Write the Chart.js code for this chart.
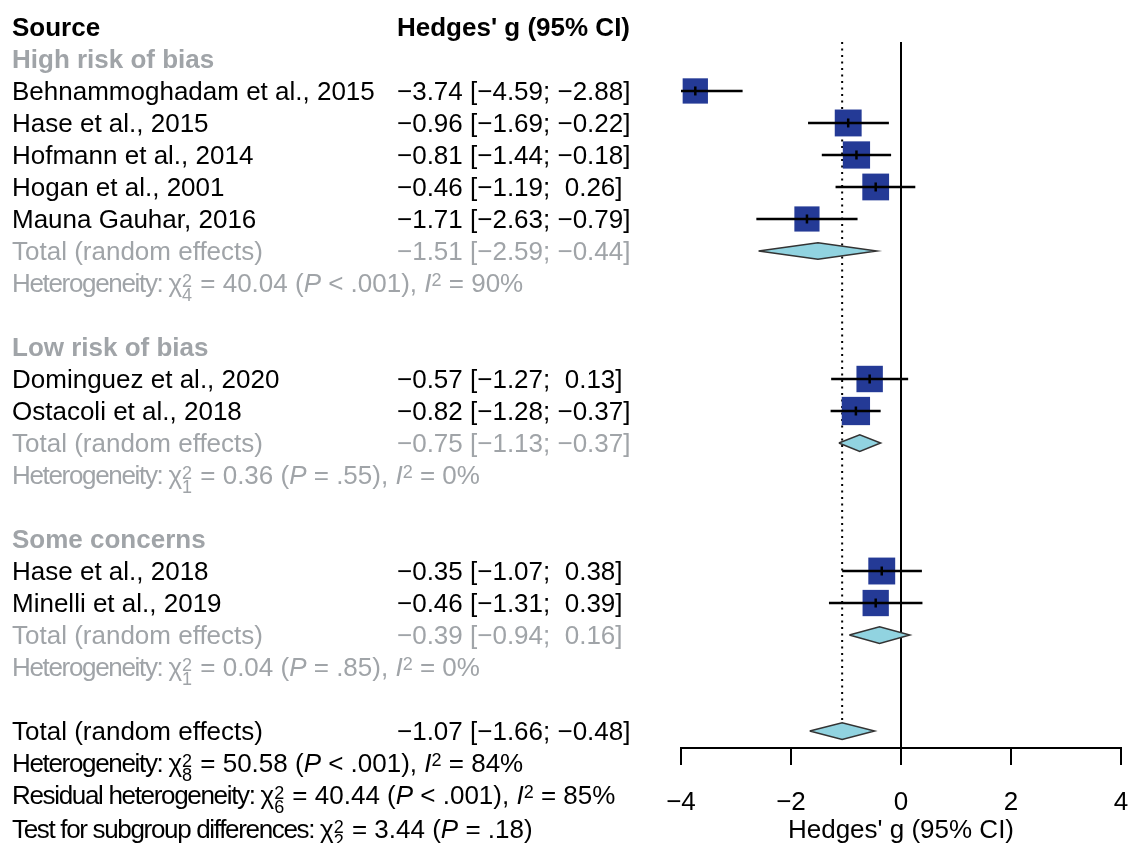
<!DOCTYPE html>
<html>
<head>
<meta charset="utf-8">
<title>Forest plot</title>
<script src="https://cdn.jsdelivr.net/npm/chart.js@4.4.1/dist/chart.umd.min.js"></script>
<style>
body{margin:0;background:#fff}
#wrap{position:relative;width:1129px;height:843px;overflow:hidden;font-family:'Liberation Sans',Arial,sans-serif;font-size:26px}
#forest{position:absolute;left:0;top:0}
.row{position:absolute;height:32px;line-height:32px;white-space:pre;color:#000}
.grey{color:#a0a4a8}
.bold{font-weight:bold}
.lab{letter-spacing:-1.33px}
.sup{position:relative;top:-6px;font-size:18px;line-height:0}
.ss{position:relative;display:inline-block;width:11px;height:0}
.ss span{position:absolute;left:0;font-size:18px;line-height:18px}
.ss .up{bottom:2px}
.ss .dn{top:-6px}
</style>
</head>
<body>
<div id="wrap"><canvas id="forest" width="1129" height="843"></canvas></div>
<script>
'use strict'
let groups=['High risk of bias','Low risk of bias','Some concerns']
let studies=['Behnammoghadam et al., 2015','Hase et al., 2015','Hofmann et al., 2014','Hogan et al., 2001','Mauna Gauhar, 2016','Dominguez et al., 2020','Ostacoli et al., 2018','Hase et al., 2018','Minelli et al., 2019']
let studyGroup=[0,0,0,0,0,1,1,2,2]
let hedgesG=[-3.74,-0.96,-0.81,-0.46,-1.71,-0.57,-0.82,-0.35,-0.46]
let ciLow=[-4.59,-1.69,-1.44,-1.19,-2.63,-1.27,-1.28,-1.07,-1.31]
let ciHigh=[-2.88,-0.22,-0.18,0.26,-0.79,0.13,-0.37,0.38,0.39]
let weights=[10.0,11.3,11.6,11.2,9.9,10.9,12.5,11.3,10.8]

let groupG=[-1.51,-0.75,-0.39]
let groupLow=[-2.59,-1.13,-0.94]
let groupHigh=[-0.44,-0.37,0.16]
let groupChi=['40.04','0.36','0.04']
let groupDf=[4,1,1]
let groupP=['< .001','= .55','= .85']
let groupI2=[90,0,0]

let totalG=-1.07, totalLow=-1.66, totalHigh=-0.48
let totalChi='50.58', totalDf=8, totalP='< .001', totalI2=84
let residChi='40.44', residDf=6, residP='< .001', residI2=85
let subgroupChi='3.44', subgroupDf=2, subgroupP='= .18'

let xTicks=[-4,-2,0,2,4]
let axisTitle="Hedges' g (95% CI)"

let squareColor='#243a96'
let diamondColor='#91d3e0'

// row 0 is the header, rows go down the page
let yTop=0.47
let yBottom=22.53

function num(v){
    return (v<0?'\u2212':' ')+Math.abs(v).toFixed(2)
}
function ci(g,lo,hi){
    return num(g).replace(/^ /,'')+' ['+num(lo).replace(/^ /,'')+'; '+num(hi)+']'
}
function chi(df){
    return '\u03c7<span class="ss"><span class="up">2</span><span class="dn">'+df+'</span></span>'
}
function het(label,c,df,p,i2){
    let s='<span class="lab">'+label+': </span>'+chi(df)+' = '+c+' (<i>P</i> '+p+')'
    if(i2!==undefined) s+=', <i>I</i><span class="sup">2</span> = '+i2+'%'
    return s
}

let rows=[]
let studyRow=[]
let groupRow=[]
rows.push({row:0,left:'Source',right:'Hedges\' g (95% CI)',cls:'bold'})
let r=1
for (let k = 0; k < groups.length; k++) {
    rows.push({row:r,left:groups[k],cls:'grey bold'})
    r++
    for (let i = 0; i < studies.length; i++) {
        if(studyGroup[i]!=k) continue
        studyRow[i]=r
        rows.push({row:r,left:studies[i],right:ci(hedgesG[i],ciLow[i],ciHigh[i])})
        r++
    }
    groupRow[k]=r
    rows.push({row:r,left:'Total (random effects)',right:ci(groupG[k],groupLow[k],groupHigh[k]),cls:'grey'})
    r++
    rows.push({row:r,left:het('Heterogeneity',groupChi[k],groupDf[k],groupP[k],groupI2[k]),cls:'grey'})
    r+=2
}
let totalRow=r
rows.push({row:r,left:'Total (random effects)',right:ci(totalG,totalLow,totalHigh)})
rows.push({row:r+1,left:het('Heterogeneity',totalChi,totalDf,totalP,totalI2)})
rows.push({row:r+2,left:het('Residual heterogeneity',residChi,residDf,residP,residI2)})
rows.push({row:r+3.05,left:het('Test for subgroup differences',subgroupChi,subgroupDf,subgroupP)})

function diamond(g,lo,hi,row){
    return {
        type:'line',
        data:[{x:lo,y:row},{x:g,y:row-0.26},{x:hi,y:row},{x:g,y:row+0.26},{x:lo,y:row}],
        borderColor:'#333',
        borderWidth:1.5,
        backgroundColor:diamondColor,
        fill:'shape',
        pointRadius:0,
        tension:0,
        order:2
    }
}

let datasets=[]
datasets.push({
    type:'scatter',
    data:studies.map((s,i)=>({x:hedgesG[i],y:studyRow[i]})),
    pointStyle:'rect',
    pointRadius:weights.map(w=>8*Math.sqrt(w)/Math.SQRT2),
    backgroundColor:squareColor,
    borderColor:squareColor,
    borderWidth:0,
    order:4
})
for (let i = 0; i < studies.length; i++) {
    datasets.push({
        type:'line',
        data:[{x:ciLow[i],y:studyRow[i]},{x:ciHigh[i],y:studyRow[i]}],
        borderColor:'#000',
        borderWidth:2.5,
        pointRadius:0,
        order:3
    })
}
datasets.push({
    type:'scatter',
    data:studies.map((s,i)=>({x:hedgesG[i],y:studyRow[i]})),
    pointStyle:'line',
    rotation:90,
    pointRadius:4.5,
    borderColor:'#000',
    borderWidth:2.5,
    order:1
})
for (let k = 0; k < groups.length; k++) {
    datasets.push(diamond(groupG[k],groupLow[k],groupHigh[k],groupRow[k]))
}
datasets.push(diamond(totalG,totalLow,totalHigh,totalRow))
datasets.push({
    type:'line',
    data:[{x:0,y:yTop},{x:0,y:yBottom}],
    borderColor:'#000',
    borderWidth:2,
    pointRadius:0,
    order:5
})
datasets.push({
    type:'line',
    data:[{x:totalG,y:yTop},{x:totalG,y:totalRow-0.26}],
    borderColor:'#000',
    borderWidth:2,
    borderDash:[2,4.5],
    pointRadius:0,
    order:5
})

Chart.defaults.font.family="'Liberation Sans', Arial, sans-serif"
let ctx=document.getElementById('forest').getContext('2d')
let chart=new Chart(ctx,{
    type:'scatter',
    data:{datasets:datasets},
    options:{
        responsive:false,
        animation:false,
        events:[],
        layout:{autoPadding:false,padding:{left:681,right:8,top:42,bottom:0}},
        plugins:{legend:{display:false},tooltip:{enabled:false}},
        scales:{
            x:{
                type:'linear',
                min:xTicks[0],
                max:xTicks[xTicks.length-1],
                afterBuildTicks:s=>{s.ticks=xTicks.map(v=>({value:v}))},
                afterFit:s=>{s.height=95;s.paddingLeft=0;s.paddingRight=0},
                grid:{drawOnChartArea:false,drawTicks:true,tickLength:17,color:'#000',lineWidth:2},
                border:{display:true,color:'#000',width:2},
                ticks:{color:'#000',padding:22,font:{size:26},maxRotation:0,callback:v=>(v<0?'\u2212':'')+Math.abs(v)},
                title:{display:true,text:axisTitle,color:'#000',font:{size:26,lineHeight:1},padding:{top:0,bottom:-1}}
            },
            y:{type:'linear',reverse:true,min:yTop,max:yBottom,display:false}
        }
    }
})

let wrap=document.getElementById('wrap')
let yScale=chart.scales.y
rows.forEach(item=>{
    let top=(yScale.getPixelForValue(item.row)-16)+'px'
    let el=document.createElement('div')
    el.className='row '+(item.cls||'')
    el.style.left='12px'
    el.style.top=top
    el.innerHTML=item.left
    wrap.appendChild(el)
    if(item.right){
        let el2=document.createElement('div')
        el2.className='row '+(item.cls||'')
        el2.style.left='397px'
        el2.style.top=top
        el2.textContent=item.right
        wrap.appendChild(el2)
    }
})
</script>
</body>
</html>
